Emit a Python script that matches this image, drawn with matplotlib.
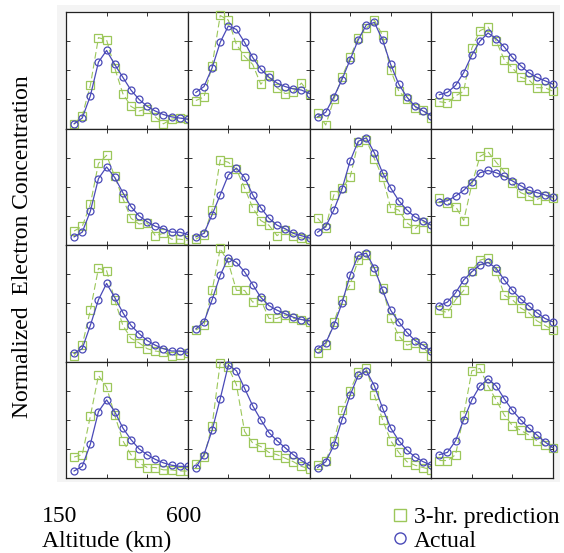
import matplotlib.pyplot as plt
import matplotlib.patches as mpatches
from matplotlib.lines import Line2D

altitude = [180, 210, 240, 270, 300, 330, 360, 390, 420, 450, 480, 510, 540, 570, 600]

# normalized values, one list per panel, left to right
actual_row1 = [
    [0.04, 0.09, 0.28, 0.57, 0.67, 0.55, 0.44, 0.33, 0.25, 0.19, 0.15, 0.12, 0.10, 0.09, 0.08],
    [0.31, 0.36, 0.52, 0.74, 0.88, 0.85, 0.74, 0.61, 0.51, 0.44, 0.39, 0.36, 0.34, 0.33, 0.30],
    [0.10, 0.14, 0.27, 0.42, 0.59, 0.76, 0.89, 0.91, 0.76, 0.55, 0.38, 0.27, 0.19, 0.15, 0.11],
    [0.29, 0.31, 0.37, 0.48, 0.63, 0.75, 0.82, 0.77, 0.70, 0.61, 0.54, 0.48, 0.44, 0.41, 0.38],
]
pred_row1 = [
    [0.04, 0.11, 0.37, 0.78, 0.76, 0.52, 0.30, 0.19, 0.15, 0.17, 0.10, 0.04, 0.08, 0.09, 0.08],
    [0.24, 0.27, 0.54, 0.97, 0.93, 0.72, 0.62, 0.55, 0.38, 0.46, 0.35, 0.30, 0.31, 0.39, 0.30],
    [0.13, 0.03, 0.25, 0.44, 0.61, 0.78, 0.86, 0.93, 0.80, 0.50, 0.32, 0.25, 0.18, 0.16, 0.09],
    [0.23, 0.22, 0.28, 0.32, 0.69, 0.84, 0.87, 0.75, 0.59, 0.52, 0.44, 0.42, 0.35, 0.35, 0.32],
]
actual_row2 = [
    [0.07, 0.11, 0.29, 0.57, 0.67, 0.58, 0.45, 0.33, 0.25, 0.20, 0.16, 0.14, 0.11, 0.11, 0.09],
    [0.07, 0.10, 0.26, 0.43, 0.60, 0.66, 0.58, 0.43, 0.32, 0.23, 0.17, 0.14, 0.10, 0.08, 0.06],
    [0.11, 0.16, 0.30, 0.48, 0.72, 0.89, 0.92, 0.79, 0.62, 0.49, 0.38, 0.30, 0.24, 0.21, 0.17],
    [0.37, 0.38, 0.42, 0.47, 0.54, 0.62, 0.64, 0.62, 0.59, 0.55, 0.51, 0.47, 0.45, 0.43, 0.41],
]
pred_row2 = [
    [0.12, 0.16, 0.35, 0.70, 0.77, 0.59, 0.40, 0.23, 0.18, 0.19, 0.08, 0.10, 0.05, 0.05, 0.04],
    [0.05, 0.09, 0.30, 0.73, 0.71, 0.65, 0.49, 0.32, 0.21, 0.17, 0.08, 0.13, 0.08, 0.06, 0.05],
    [0.23, 0.15, 0.43, 0.49, 0.58, 0.88, 0.90, 0.74, 0.58, 0.32, 0.30, 0.19, 0.14, 0.20, 0.15],
    [0.40, 0.36, 0.33, 0.21, 0.52, 0.76, 0.80, 0.71, 0.63, 0.53, 0.45, 0.42, 0.39, 0.42, 0.40],
]
actual_row3 = [
    [0.07, 0.11, 0.31, 0.53, 0.67, 0.55, 0.42, 0.31, 0.24, 0.18, 0.14, 0.11, 0.09, 0.09, 0.08],
    [0.28, 0.34, 0.53, 0.74, 0.89, 0.85, 0.77, 0.66, 0.55, 0.48, 0.44, 0.41, 0.38, 0.36, 0.35],
    [0.11, 0.16, 0.31, 0.50, 0.74, 0.91, 0.93, 0.80, 0.61, 0.44, 0.34, 0.25, 0.18, 0.14, 0.09],
    [0.48, 0.51, 0.59, 0.70, 0.77, 0.83, 0.85, 0.80, 0.70, 0.61, 0.54, 0.48, 0.42, 0.37, 0.34],
]
pred_row3 = [
    [0.05, 0.14, 0.44, 0.80, 0.78, 0.53, 0.31, 0.20, 0.16, 0.11, 0.09, 0.08, 0.05, 0.06, 0.07],
    [0.27, 0.31, 0.61, 0.97, 0.85, 0.61, 0.61, 0.51, 0.53, 0.37, 0.37, 0.40, 0.37, 0.36, 0.34],
    [0.07, 0.14, 0.34, 0.53, 0.66, 0.87, 0.91, 0.78, 0.63, 0.37, 0.22, 0.14, 0.16, 0.12, 0.05],
    [0.44, 0.42, 0.53, 0.61, 0.78, 0.87, 0.89, 0.78, 0.57, 0.53, 0.46, 0.42, 0.35, 0.31, 0.27],
]
actual_row4 = [
    [0.06, 0.10, 0.29, 0.57, 0.67, 0.57, 0.43, 0.33, 0.25, 0.20, 0.16, 0.13, 0.11, 0.10, 0.10],
    [0.09, 0.20, 0.41, 0.68, 0.97, 0.92, 0.77, 0.62, 0.50, 0.39, 0.32, 0.26, 0.20, 0.15, 0.11],
    [0.09, 0.14, 0.28, 0.50, 0.71, 0.88, 0.92, 0.79, 0.60, 0.43, 0.32, 0.24, 0.18, 0.14, 0.11],
    [0.20, 0.22, 0.32, 0.50, 0.67, 0.79, 0.85, 0.79, 0.68, 0.58, 0.50, 0.43, 0.37, 0.31, 0.26],
]
pred_row4 = [
    [0.18, 0.20, 0.53, 0.88, 0.78, 0.54, 0.32, 0.20, 0.13, 0.09, 0.09, 0.07, 0.07, 0.06, 0.06],
    [0.12, 0.18, 0.45, 0.99, 0.95, 0.80, 0.40, 0.30, 0.27, 0.22, 0.20, 0.17, 0.14, 0.10, 0.08],
    [0.11, 0.15, 0.32, 0.58, 0.75, 0.91, 0.94, 0.71, 0.50, 0.32, 0.22, 0.14, 0.11, 0.09, 0.07],
    [0.15, 0.15, 0.20, 0.54, 0.92, 0.94, 0.79, 0.67, 0.54, 0.45, 0.41, 0.37, 0.32, 0.28, 0.26],
]

actual_rows = [actual_row1, actual_row2, actual_row3, actual_row4]
pred_rows = [pred_row1, pred_row2, pred_row3, pred_row4]

green = '#9cc75a'
blue = '#4a4ab8'

plt.rcParams['font.family'] = ['Liberation Serif', 'DejaVu Serif']

fig = plt.figure(figsize=(5.64, 5.53), dpi=100)
W, H = 564.0, 553.0

# light grey scan background behind the panels
bg = fig.add_axes([57 / W, 1 - 482 / H, 503 / W, 477 / H], zorder=-10)
bg.set_facecolor('#f4f4f4')
bg.set_axis_off()
bg.add_patch(mpatches.Rectangle((0, 0), 1, 1, transform=bg.transAxes,
                                facecolor='#f4f4f4', edgecolor='none'))

left, right, top, bottom = 66, 553, 12, 478
gs = fig.add_gridspec(4, 4, left=left / W, right=right / W, top=1 - top / H,
                      bottom=1 - bottom / H, wspace=0, hspace=0)

for r in range(4):
    for c in range(4):
        ax = fig.add_subplot(gs[r, c])
        ax.set_facecolor('white')
        ax.plot(altitude, pred_rows[r][c], linestyle=(0, (6, 3)), color=green, lw=0.8,
                marker='s', ms=5.5, mfc='none', mec=green, mew=0.9, clip_on=False, zorder=3)
        ax.plot(altitude, actual_rows[r][c], linestyle='-', color=blue, lw=0.9,
                marker='o', ms=5, mfc='none', mec=blue, mew=0.9, clip_on=False, zorder=4)
        ax.set_xlim(150, 600)
        ax.set_ylim(0, 1)
        ax.set_xticks([300, 450])
        ax.set_yticks([0.25, 0.5, 0.75])
        ax.tick_params(direction='in', length=3, width=0.7, top=True, right=True,
                       labelbottom=False, labelleft=False, color='#333333')
        for s in ax.spines.values():
            s.set_linewidth(0.9)
            s.set_color('#222222')

fig.text(23 / W, 1 - 247 / H, 'Normalized  Electron Concentration', rotation=90,
         ha='center', va='center', fontsize=17)
fig.text(42 / W, 1 - 517 / H, '150', ha='left', va='center', fontsize=17)
fig.text(166 / W, 1 - 517 / H, '600', ha='left', va='center', fontsize=17)
fig.text(42 / W, 1 - 541 / H, 'Altitude (km)', ha='left', va='center', fontsize=17)

handles = [Line2D([], [], linestyle='none', marker='s', ms=9, mfc='none', mec=green, mew=1.0),
           Line2D([], [], linestyle='none', marker='o', ms=8, mfc='none', mec=blue, mew=1.0)]
fig.legend(handles, ['3-hr. prediction', 'Actual'], loc='center left',
           bbox_to_anchor=(388 / W, 1 - 529 / H), frameon=False, fontsize=17,
           handletextpad=0.1, labelspacing=0.1, handlelength=1.0, borderaxespad=0,
           borderpad=0)

fig.savefig('out.png', dpi=100)
